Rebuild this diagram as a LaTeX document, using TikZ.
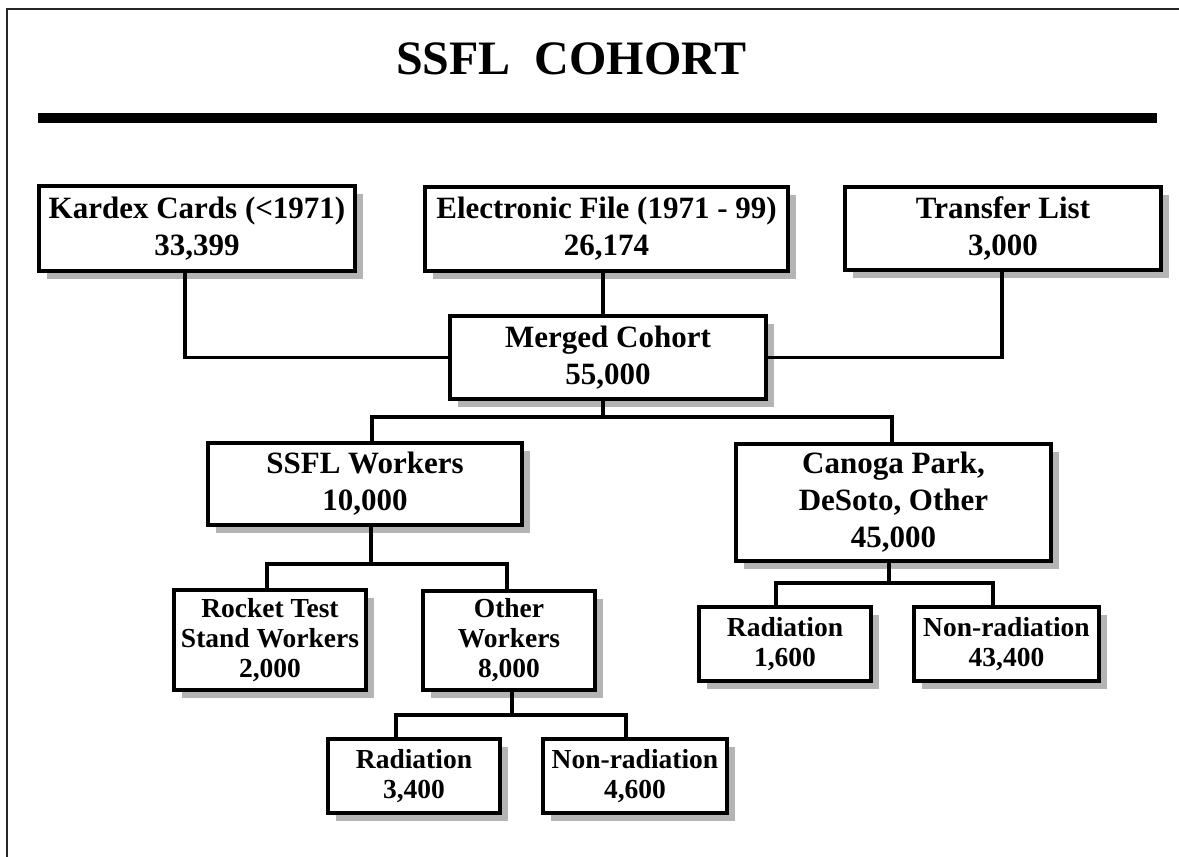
\documentclass[tikz,border=0pt]{standalone}
\usepackage{fontspec}
\setmainfont{Liberation Serif}
\usetikzlibrary{shadows}
\definecolor{shadowgray}{HTML}{B4B4B4}
\tikzset{
  box/.style={draw=black, line width=3.8pt, fill=white, inner sep=0pt, align=center,
    font=\bfseries\fontsize{31}{37}\selectfont,
    drop shadow={shadow xshift=8pt, shadow yshift=-8pt, fill=shadowgray, opacity=1}},
  smallbox/.style={box, font=\bfseries\fontsize{27.5}{30}\selectfont},
  link/.style={draw=black, line width=3.8pt},
}
\begin{document}
\begin{tikzpicture}[x=1pt,y=-1pt]
\useasboundingbox (0,0) rectangle (1179,857);
\fill[white] (0,0) rectangle (1179,857);
% frame
\draw[line width=2.2pt, black!85] (7,880) -- (7,9) -- (1200,9);
% title
\node[anchor=base west, inner sep=0pt, font=\bfseries\fontsize{48}{54}\selectfont] (title) at (396,74) {SSFL\ \ COHORT};
\fill[black] (38,113) rectangle (1157,123);

% level 1
\node[box, minimum width=316pt, minimum height=85pt] (kardex) at (197,228.5) {Kardex Cards (<1971)\\33,399};
\node[box, minimum width=363pt, minimum height=84pt] (elec) at (606.5,229) {Electronic File (1971 - 99)\\26,174};
\node[box, minimum width=316pt, minimum height=83pt] (transfer) at (1003,228.5) {Transfer List\\3,000};
% merged
\node[box, minimum width=316pt, minimum height=83pt] (merged) at (608,357.5) {Merged Cohort\\55,000};
% level 2
\node[box, minimum width=314pt, minimum height=82pt] (ssfl) at (365,484) {SSFL Workers\\10,000};
\node[box, minimum width=315pt, minimum height=117pt] (canoga) at (893.5,502.5) {Canoga Park,\\DeSoto, Other\\45,000};
% level 3
\node[smallbox, minimum width=192pt, minimum height=100pt] (rocket) at (270,640) {Rocket Test\\Stand Workers\\2,000};
\node[smallbox, minimum width=172pt, minimum height=99pt] (other) at (509,640.5) {Other\\Workers\\8,000};
\node[smallbox, minimum width=172pt, minimum height=74pt] (rad2) at (785,644) {Radiation\\1,600};
\node[smallbox, minimum width=185pt, minimum height=74pt] (nonrad2) at (1006.5,644) {Non-radiation\\43,400};
% level 4
\node[smallbox, minimum width=172pt, minimum height=74pt] (rad1) at (414,776) {Radiation\\3,400};
\node[smallbox, minimum width=184pt, minimum height=74pt] (nonrad1) at (635,776) {Non-radiation\\4,600};

% connectors
\path[link] ([xshift=-12pt]kardex.south) |- (merged.west);
\path[link] ([xshift=-1pt]transfer.south) |- (merged.east);
\path[link] ([xshift=-3.5pt]elec.south) -- ([xshift=-3.5pt]elec.south |- merged.north);

\coordinate (j1) at (603,417);
\path[link] (merged.south -| j1) -- (j1);
\path[link] ([xshift=7pt]ssfl.north) |- (j1) -| ([xshift=-1.5pt]canoga.north);

\coordinate (j2) at (371,564);
\path[link] (ssfl.south -| j2) -- (j2);
\path[link] ([xshift=-3pt]rocket.north) |- (j2) -| ([xshift=-2pt]other.north);

\coordinate (j3) at (512,715);
\path[link] (other.south -| j3) -- (j3);
\path[link] ([xshift=-18pt]rad1.north) |- (j3) -| ([xshift=-9pt]nonrad1.north);

\coordinate (j4) at (889,583);
\path[link] (canoga.south -| j4) -- (j4);
\path[link] ([xshift=-9pt]rad2.north) |- (j4) -| ([xshift=-13.5pt]nonrad2.north);
\end{tikzpicture}
\end{document}
